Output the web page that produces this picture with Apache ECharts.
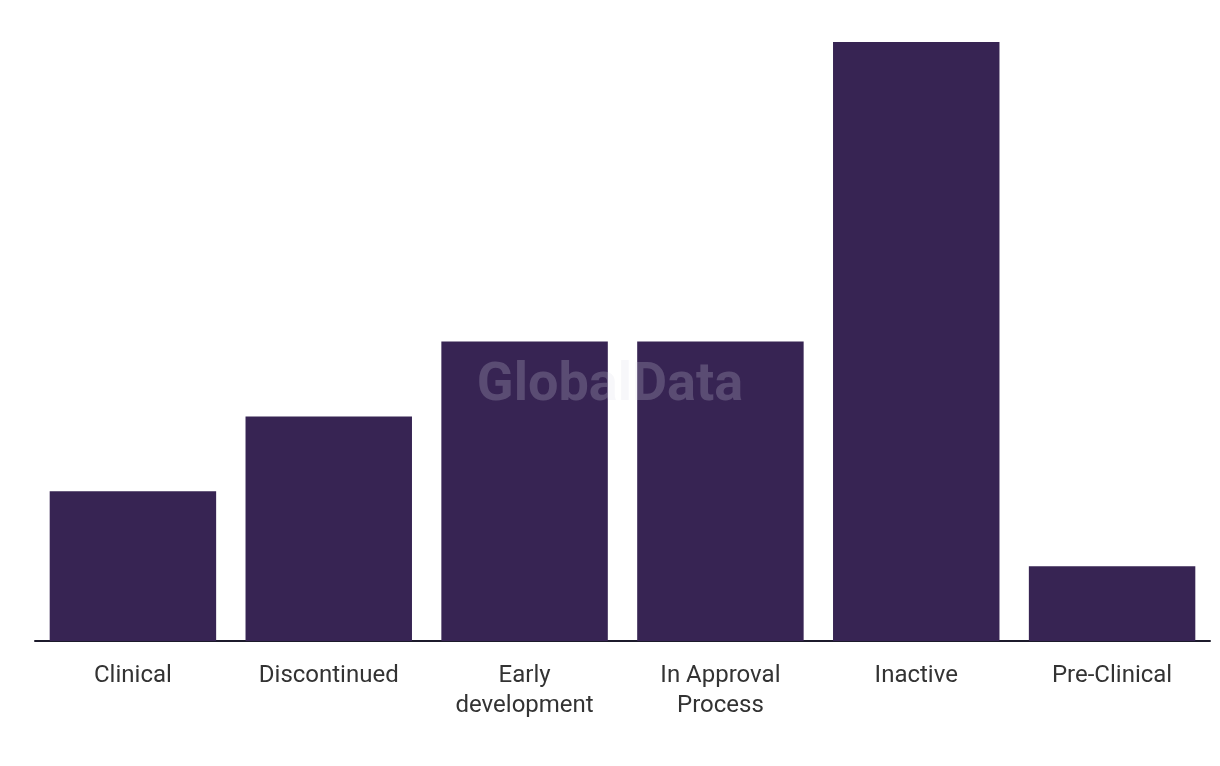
<!DOCTYPE html>
<html><head><meta charset="utf-8">
<script src="https://cdn.jsdelivr.net/npm/echarts@6/dist/echarts.min.js"></script>
<style>html,body{margin:0;padding:0;background:#fff}#c{width:1220px;height:766px}</style>
</head><body><div id="c"></div>
<script>
const categories = ["Clinical", "Discontinued", "Early\ndevelopment", "In Approval\nProcess", "Inactive", "Pre-Clinical"];
const values = [2, 3, 4, 4, 8, 1];

const chart = echarts.init(document.getElementById('c'));
chart.setOption({
  animation: false,
  grid: {left: 35, right: 10, top: 42, bottom: 125, containLabel: false},
  xAxis: {
    type: 'category', data: categories,
    axisLine: {lineStyle: {color: '#1c1a2b', width: 2}},
    axisTick: {show: false},
    axisLabel: {color: '#333', fontSize: 24, fontFamily: 'Roboto', lineHeight: 30, margin: 20, interval: 0}
  },
  yAxis: {type: 'value', min: 0, max: 8, show: false, splitLine: {show: false}},
  series: [{
    type: 'bar', data: values, barWidth: '85%',
    itemStyle: {color: '#372453'}
  }],
  graphic: [{
    type: 'text', left: 'center', top: 359, z: 100,
    style: {text: 'GlobalData', font: 'bold 54px Roboto', fill: 'rgba(220,220,230,0.22)'}
  }]
});
</script></body></html>
